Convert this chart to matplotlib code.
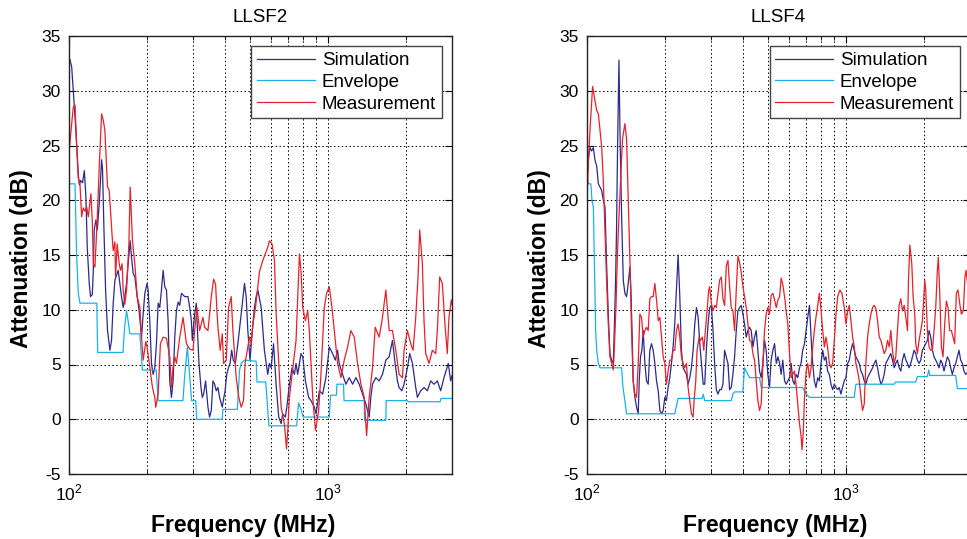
import matplotlib
matplotlib.use('Agg')
import matplotlib.pyplot as plt
from matplotlib.ticker import FixedLocator, NullFormatter

# (frequency MHz, attenuation dB)
llsf2_sim = [(100, 33.1), (100.9, 32.8), (102.4, 32.2), (103.9, 30), (105.5, 27.6), (107, 25.2), (108.6, 22.4),
             (109.6, 21.4), (110.9, 21.8), (112.8, 21.6), (114.6, 22.7), (116.2, 20.3), (117.6, 15.7), (119.7, 12.4),
             (121.1, 11.2), (123, 11.4), (124.1, 13.6), (125.1, 17.3), (127, 18.2), (128.6, 17.3), (130.8, 19.7),
             (133.6, 23.7), (134.7, 22.8), (136.4, 17.3), (138.4, 11.8), (140.8, 8.1), (143.8, 6.3), (145.9, 7.2),
             (148.1, 10.6), (150.3, 12.7), (154.8, 13.6), (159.4, 11.2), (161.8, 10.2), (164.2, 11.2), (166.7, 12.4),
             (169.1, 14.2), (172.2, 16.3), (174.2, 14.8), (176.8, 13.3), (179.4, 13.0), (183.2, 11.2), (186.4, 9.9),
             (190.4, 7.5), (193.2, 9.6), (196.1, 11.5), (200, 12.4), (201.9, 11.8), (204.9, 9), (208, 5.1),
             (211.1, 4.1), (214.2, 4.7), (217.4, 6.9), (220.7, 10.6), (223.9, 10.2), (227.3, 11.8), (230.7, 13.6),
             (234.1, 12.1), (237.6, 11.8), (241.1, 9), (244.7, 3.5), (248.4, 2.0), (252, 3.5), (255.8, 7.5),
             (259.6, 9.9), (263.5, 10.7), (267.4, 10.4), (271.4, 11.5), (279.5, 11.2), (287.7, 11.2), (292.1, 10.2),
             (296.4, 9.0), (299, 7.2), (302.6, 8.7), (305.3, 9.6), (309.7, 10.6), (312.5, 8.4), (317.2, 5.1),
             (322.8, 2.9), (326.7, 2.0), (330.5, 2.3), (336.4, 3.5), (343.5, 1.1), (348.5, 0.2), (353.8, 0.8),
             (359.1, 3.5), (364.4, 3.2), (369.8, 2.6), (375.3, 2.9), (380.9, 2.0), (390, 1.1), (395.7, 2.0),
             (400, 2.6), (405.8, 4.1), (412, 4.7), (418, 5.1), (424, 6.3), (430, 5.4), (438, 5.1), (448, 6.9),
             (461.4, 9.6), (475.2, 12.4), (482.3, 11.2), (489.4, 8.1), (499, 5.4), (509, 8.0), (519, 10.2),
             (527, 11.2), (535, 11.8), (551, 10.2), (567, 6.3), (584, 4.1), (593, 5.1), (602, 4.7), (615, 6.9),
             (629, 3.2), (644, 0.2), (658, -0.4), (667, 0.5), (683, 0.2), (692, 1.1), (708, 3.2), (725, 4.7),
             (740, 4.1), (751, 5.1), (762, 4.1), (785, 6), (797, 5.7), (816, 3.5), (840, 2.0), (858, 1.7),
             (884, 1.1), (897, 0.5), (924, 2.6), (951, 2.3), (979, 3.8), (1009, 6.6), (1039, 6.0), (1064, 5.4),
             (1086, 6.3), (1102, 5.1), (1135, 4.1), (1169, 3.2), (1204, 3.8), (1241, 3.2), (1278, 3.8),
             (1316, 3.2), (1356, 2.3), (1396, 1.4), (1438, 0.2), (1459, 2.0), (1481, 3.2), (1525, 3.8),
             (1571, 3.5), (1618, 4.1), (1667, 5.4), (1717, 5.7), (1768, 7.2), (1810, 5.1), (1848, 3.5),
             (1875, 2.9), (1920, 2.6), (1960, 3.2), (2019, 4.7), (2061, 6.0), (2111, 5.1), (2174, 2.9),
             (2206, 2.0), (2272, 2.6), (2340, 2.9), (2410, 2.6), (2483, 3.5), (2557, 3.2), (2634, 3.5),
             (2713, 2.6), (2794, 3.8), (2903, 5.1), (2964, 3.5), (3000, 4.0)]

llsf2_env = [(100, 21.5), (105.5, 21.5), (107, 15), (108.6, 11.5), (110.2, 10.6), (128, 10.6), (129, 6.1),
             (161.5, 6.1), (164, 8.5), (166.7, 9.9), (169, 9.0), (171.7, 7.8), (187.6, 7.8), (191.8, 4.5),
             (217, 4.5), (220.7, 1.7), (275, 1.7), (279.5, 4.0), (286, 6.6), (292, 4.0), (297, 1.7), (308, 1.7),
             (311, 0.0), (390, 0.0), (392, 0.9), (446, 0.9), (454.6, 4.5), (461.4, 5.1), (475, 5.4), (527, 5.3),
             (531, 3.4), (574, 3.4), (590, -0.6), (755, -0.6), (768, 1.5), (785, 0.9), (800, 0.2), (1009, 0.2),
             (1020, 2.2), (1075, 2.2), (1080, 3.2), (1145, 3.2), (1150, 1.7), (1376, 1.7), (1380, -0.1),
             (1667, -0.1), (1672, 1.7), (2020, 1.7), (2030, 1.6), (2700, 1.6), (2720, 1.9), (3000, 1.9)]

llsf2_meas = [(100, 24.3), (102.4, 27), (103.9, 28.5), (105.5, 28.7), (107, 25), (108.6, 22.0), (110.2, 21.5),
              (111.9, 18.5), (113.5, 19.3), (115.2, 19.0), (116.9, 19.4), (118.7, 18.5), (121.5, 20.6), (123, 18),
              (124.1, 14.2), (125.9, 13.9), (128.6, 18.5), (130.8, 23), (133.6, 27.9), (135.6, 27.3), (137.5, 26.4),
              (140.8, 21.2), (142.9, 20.9), (146.8, 16.6), (148.1, 15.4), (150.3, 16.2), (151.2, 13), (153.4, 16),
              (156.2, 14.2), (158, 13.6), (160.3, 14.2), (161.8, 11.8), (164.2, 10.5), (166.7, 11.8), (170.2, 16),
              (172.2, 21.2), (174.2, 18.5), (175.7, 16.3), (179.4, 14.2), (183.2, 11.2), (187.6, 10.2),
              (190.4, 7.5), (193.2, 5.4), (197.9, 7.1), (200, 6.6), (204.9, 4.8), (209.8, 2.9), (214.2, 2.0),
              (216.1, 1.1), (220.7, 2.3), (225.2, 6.9), (230.7, 7.5), (237.6, 7.4), (244.7, 5.7), (248.4, 2.9),
              (252, 4.8), (255.8, 5.7), (259.6, 5.1), (267.4, 7.5), (275.4, 9.3), (279.5, 8.1), (283.7, 6.9),
              (292.1, 6.4), (300.8, 6.3), (305.3, 8.1), (311.6, 10.2), (319, 8.1), (328.6, 9.3), (333.4, 8.4),
              (343.5, 8.1), (353.8, 11.2), (361.2, 12.8), (367.6, 12.3), (372, 9.9), (375.3, 8.4), (383, 6.3),
              (390, 7.8), (394.6, 5.1), (404, 5.4), (410, 8.7), (412.5, 10.2), (422.3, 11.2), (428.6, 8.1),
              (441.4, 3.8), (451.9, 2.0), (461.4, 1.1), (471, 1.7), (477.5, 5.1), (496.7, 7.5), (504, 6.9),
              (512, 8.7), (524, 10.2), (543, 13.5), (559, 14.5), (584, 15.7), (593, 16.3), (607, 16), (620, 14.5),
              (629, 9.8), (644, 5.1), (658, 1.1), (677, -0.4), (690, -2.7), (698, -1.0), (708, 2), (725, 4.1),
              (751, 7.2), (774, 15.1), (785, 13.5), (797, 10.2), (816, 9), (833, 9.9), (845, 8.1), (871, 2),
              (892, -1.0), (900, -0.5), (918, 0.8), (937, 4.1), (965, 10.2), (985, 11.5), (1009, 12.1),
              (1033, 10.2), (1055, 8.1), (1086, 5.1), (1119, 3.8), (1152, 5.4), (1187, 6.6), (1222, 8.1),
              (1259, 7.5), (1297, 5.1), (1336, 3.2), (1376, 2.0), (1405, -1.5), (1438, 2), (1481, 4.7),
              (1517, 8.4), (1571, 7.5), (1618, 9.3), (1667, 11.8), (1717, 8.1), (1768, 8.1), (1821, 6.3),
              (1875, 4.1), (1932, 3.8), (1960, 6.3), (2019, 8.1), (2080, 6.9), (2123, 6.3), (2174, 9.3),
              (2219, 13), (2252, 17.3), (2306, 14.2), (2340, 9), (2375, 6), (2447, 5.1), (2520, 6.3), (2596, 6),
              (2634, 8.1), (2689, 13), (2753, 12.4), (2818, 8.7), (2877, 6), (2920, 9.3), (2982, 10.9), (3000, 10.5)]

llsf4_sim = [(100, 21.8), (101.2, 23.8), (102.7, 24.8), (104.2, 24.5), (105.8, 24.8), (107.3, 23.7), (109, 23.1),
             (110.6, 21.5), (112.2, 21.2), (113.9, 20.9), (115.6, 20), (117.3, 19.4), (119, 14.2), (120.8, 9.6),
             (122.6, 6.0), (124.4, 5.4), (126.3, 5.1), (127.4, 8.1), (128.9, 12.7), (130, 17.3), (131.2, 24.9),
             (132.8, 32.8), (134, 26.4), (136, 18.5), (138, 12.7), (140, 11.5), (142.1, 11.2), (144.2, 12.4),
             (146.4, 13.9), (147.7, 11.8), (149.4, 7.5), (150.7, 3.5), (153, 2.0), (155.3, 1.1), (157.6, 0.5),
             (159, 3.5), (160.8, 5.7), (162.8, 6.3), (164.7, 8.1), (167.2, 5.1), (169.6, 3.5), (172.2, 3.2),
             (174.7, 6.3), (177.3, 6.9), (180, 6.3), (182.7, 5.1), (185.4, 3.5), (188.2, 2.6), (191, 0.8),
             (193.8, 0.5), (196.7, 0.8), (199.6, 2.0), (202.5, 1.7), (205.5, 2.9), (208.6, 3.8), (211.7, 5.1),
             (214.8, 6.6), (218, 8.7), (221.3, 11.8), (224.6, 15), (228, 11.2), (231.3, 6.3), (234.8, 4.7),
             (238.3, 4.4), (241.8, 4.1), (245.4, 3.2), (249.1, 3.8), (252.8, 4.7), (256.6, 6.3), (260.4, 8.7),
             (264.3, 10.2), (268.3, 9.3), (272.3, 6.9), (276.4, 5.1), (280.6, 3.2), (284.5, 3.2), (288.5, 6.3),
             (293, 8.7), (297.3, 10.2), (301.7, 10.4), (306.2, 8.1), (310.6, 5.1), (315.3, 2.7), (320, 2.3),
             (324.7, 2.7), (329.5, 2.7), (334.4, 3.2), (339.4, 6.3), (344.5, 5.7), (349.6, 5.1), (354.8, 2.7),
             (360, 2.9), (365.4, 4.1), (370.8, 5.7), (376.4, 8.1), (382, 9.9), (387.7, 10.2), (393.5, 10.4),
             (399.3, 9.6), (405.2, 8.7), (411.3, 7.5), (417.4, 8.1), (423.6, 8.4), (429.9, 8.1), (436.3, 6.6),
             (442.8, 7.5), (449.4, 8.1), (456, 6.3), (462.8, 4.4), (469.7, 3.8), (476.7, 5.1), (483.8, 7.2),
             (491, 6.3), (498.2, 4.1), (505.7, 2.9), (513, 5.4), (521, 6.3), (529, 6.9), (537, 5.1), (545, 5.7),
             (553, 5.1), (561, 4.1), (569, 5.4), (578, 3.5), (586, 3.2), (595, 3.5), (604, 3.8), (613, 5.1),
             (622, 3.5), (631, 3.2), (640, 4.1), (650, 3.8), (660, 4.7), (669, 5.1), (679, 6.3), (690, 6.9),
             (700, 8.1), (710, 9.3), (721, 10.4), (727, 8.7), (735, 6.6), (742, 5.1), (753, 3.5), (764, 2.9),
             (776, 3.8), (787, 3.5), (799, 5.1), (811, 6.3), (823, 5.4), (835, 5.7), (847, 4.4), (860, 4.1),
             (873, 3.2), (886, 2.7), (899, 3.2), (913, 2.9), (926, 2.7), (940, 2.9), (953, 2.3), (967, 2.9),
             (982, 3.5), (997, 3.8), (1012, 5.1), (1027, 5.4), (1042, 6.3), (1058, 6.9), (1073, 6.3),
             (1089, 5.7), (1106, 5.4), (1122, 5.1), (1139, 4.4), (1155, 4.1), (1173, 3.5), (1190, 3.2),
             (1208, 3.8), (1226, 4.1), (1244, 4.4), (1263, 4.7), (1282, 5.1), (1301, 5.4), (1320, 4.7),
             (1340, 3.8), (1360, 3.2), (1380, 3.5), (1400, 4.1), (1421, 5.1), (1442, 5.4), (1464, 5.7),
             (1485, 6.0), (1507, 5.4), (1530, 4.7), (1552, 5.1), (1575, 5.4), (1599, 4.7), (1623, 4.4),
             (1647, 5.4), (1672, 6.0), (1697, 5.4), (1722, 5.1), (1747, 4.7), (1773, 5.1), (1799, 5.7),
             (1826, 6.3), (1853, 6.0), (1880, 5.4), (1909, 5.1), (1937, 5.4), (1966, 6.3), (1995, 6.6),
             (2025, 6.9), (2055, 7.2), (2086, 8.1), (2117, 7.5), (2148, 6.3), (2180, 5.7), (2213, 5.4),
             (2245, 5.1), (2279, 4.7), (2313, 5.4), (2347, 5.1), (2382, 4.4), (2418, 5.1), (2454, 5.7),
             (2490, 5.4), (2527, 4.7), (2565, 4.1), (2603, 4.7), (2642, 5.1), (2681, 5.7), (2721, 6.3),
             (2761, 5.4), (2803, 5.1), (2844, 4.4), (2886, 4.1), (3000, 4.5)]

llsf4_env = [(100, 22.1), (101.5, 21.5), (103.5, 21.5), (104.5, 20), (105.8, 19.4), (106.8, 14.2), (108, 8.1),
             (109, 6.3), (110.6, 5.1), (112.2, 4.7), (136, 4.7), (137.5, 3.0), (139.4, 2.0), (142.1, 0.5),
             (218, 0.5), (221.3, 1.2), (224.6, 1.9), (278, 1.9), (280.6, 2.3), (284.5, 1.7), (360, 1.7),
             (365.4, 2.3), (370.8, 2.5), (399, 2.5), (405.2, 4.7), (411.3, 4.4), (423.6, 3.8), (462.8, 3.8),
             (469.7, 2.9), (679, 2.9), (690, 2.6), (700, 2.3), (721, 2.0), (1073, 2.0), (1089, 3.2), (1530, 3.2),
             (1552, 3.4), (1853, 3.4), (1880, 3.9), (2055, 3.9), (2080, 4.5), (2100, 4.0), (2642, 4.0),
             (2681, 2.8), (3000, 2.8)]

llsf4_meas = [(100, 19.7), (101.2, 23.4), (102.7, 26.4), (105.1, 30.4), (107.3, 29.1), (109, 28.2), (110.6, 27.9),
              (112.2, 26.4), (113.9, 24.9), (115.6, 21.8), (117.3, 17.3), (119, 12.7), (120.8, 8.7), (122.6, 5.7),
              (124.4, 5.1), (126.3, 4.5), (127.4, 6.3), (129.3, 10.2), (131.2, 15.5), (133.2, 19.1), (135.2, 22.6),
              (137.1, 25.6), (140, 27), (142.1, 25.6), (144.2, 20), (146.4, 14.5), (148.5, 8.1), (150.7, 3.5),
              (153, 2.3), (155.3, 2.0), (157.6, 5.1), (159.9, 9.6), (162.3, 9.3), (164.7, 7.5), (167.2, 8.1),
              (169.6, 8.4), (172.2, 8.1), (174.7, 11), (177.3, 11.2), (180, 11.2), (182.7, 12.4), (185.4, 10.9),
              (188.2, 9.0), (191, 9.3), (193.8, 7.5), (196.7, 5.7), (199.6, 5.1), (202.5, 3.2), (205.5, 4.4),
              (208.6, 5.4), (211.7, 5.4), (214.8, 6.3), (218, 6.3), (221.3, 8.1), (224.6, 8.7), (228, 7.5),
              (231.3, 5.7), (234.8, 5.1), (238.3, 4.7), (241.8, 5.1), (245.4, 2.9), (249.1, 1.7), (252.8, 0.5),
              (256.6, 0.2), (258.8, 1.7), (262.7, 3.5), (265.8, 6.3), (270.6, 7.5), (273.8, 7.2), (278.7, 7.5),
              (282, 6.3), (286.2, 8.1), (290.4, 9.9), (294.7, 11.8), (297.3, 12.1), (301.7, 10.6), (306.2, 9.9),
              (310.6, 10.4), (315.3, 10.2), (320, 11.5), (324.7, 12.7), (329.5, 13), (334.4, 11), (339.4, 10.4),
              (344.5, 14), (349.6, 14.5), (354.8, 12.1), (360, 10.2), (365.4, 9.9), (370.8, 8.1), (376.4, 11.8),
              (382, 14.9), (387.7, 14.3), (393.5, 13.4), (399.3, 12.1), (405.2, 11.2), (411.3, 10.2), (417.4, 8.7),
              (423.6, 7.2), (429.9, 7.1), (436.3, 6.0), (442.8, 5.4), (449.4, 3.5), (456, 1.7), (462.8, 0.8),
              (469.7, 1.4), (476.7, 5.0), (483.8, 8.1), (491, 9.6), (498.2, 10.2), (505.7, 9.6), (513, 11.3),
              (521, 11.5), (529, 10.9), (537, 10.2), (545, 10.9), (553, 11.2), (561, 12.9), (569, 12.3), (578, 11.2),
              (586, 9.9), (595, 8.7), (604, 6.0), (613, 3.8), (622, 4.1), (631, 4.4), (640, 3.2), (650, 1.4),
              (660, -0.4), (669, -1.5), (675, -2.8), (683, -1.0), (690, 2.0), (700, 4.4), (710, 5.1), (721, 3.8),
              (731, 4.7), (742, 6.6), (753, 8.1), (764, 9.3), (776, 10.4), (787, 11.5), (799, 10.0), (811, 8.1),
              (823, 6.6), (835, 7.5), (847, 6.6), (860, 5.1), (873, 4.7), (886, 5.1), (899, 7.2), (913, 9.6),
              (926, 11.2), (945, 11.8), (962, 11.5), (982, 10.2), (997, 8.7), (1012, 9.9), (1027, 10.4),
              (1042, 9.0), (1058, 7.5), (1073, 6.6), (1089, 5.1), (1106, 4.4), (1122, 3.5), (1139, 2.0),
              (1155, 0.8), (1173, 1.4), (1190, 5.1), (1208, 7.5), (1226, 8.7), (1244, 9.6), (1263, 10.2),
              (1282, 10.4), (1301, 10.1), (1320, 9.0), (1340, 7.5), (1360, 7.2), (1380, 6.6), (1400, 6.0),
              (1421, 6.3), (1442, 7.2), (1464, 6.6), (1485, 8.1), (1507, 6.3), (1530, 5.1), (1552, 5.7),
              (1575, 8.1), (1599, 10.4), (1623, 11.0), (1647, 9.9), (1672, 10.4), (1697, 9.3), (1722, 8.1),
              (1737, 12.7), (1758, 15.9), (1789, 14.2), (1810, 11.2), (1837, 9.6), (1853, 6.9), (1880, 6.0),
              (1909, 7.2), (1937, 8.1), (1966, 9.0), (1983, 10.4), (2007, 12.7), (2025, 11.8), (2055, 8.1),
              (2086, 6.6), (2117, 6.3), (2148, 6.3), (2180, 8.1), (2213, 10.2), (2245, 13.6), (2265, 14.8),
              (2293, 11.5), (2327, 6.6), (2361, 5.7), (2396, 8.7), (2432, 10.8), (2468, 10.2), (2505, 8.1),
              (2542, 8.1), (2580, 7.5), (2618, 6.9), (2657, 11.5), (2697, 11.8), (2737, 10.6), (2778, 9.6),
              (2827, 9.9), (2869, 13), (2895, 13.6), (2950, 12), (3000, 11)]

panels = [("LLSF2", llsf2_sim, llsf2_env, llsf2_meas), ("LLSF4", llsf4_sim, llsf4_env, llsf4_meas)]
series_names = ["Simulation", "Envelope", "Measurement"]
series_colors = ["#2a2a8e", "#1ab2e6", "#e8202a"]

plt.rcParams['font.family'] = ['Liberation Sans', 'DejaVu Sans']
plt.rcParams['mathtext.fontset'] = 'custom'
plt.rcParams['mathtext.rm'] = 'Liberation Sans'
plt.rcParams['axes.unicode_minus'] = False

W, H = 967, 539
fig = plt.figure(figsize=(W / 100, H / 100), dpi=100)

# left edge (px) of each panel and x-centre of its xlabel in axes units
lefts = [69, 587]
xlabel_x = [0.454, 0.491]
for (title, sim, env, meas), x0, lx in zip(panels, lefts, xlabel_x):
    ax = fig.add_axes([x0 / W, (H - 474) / H, 383 / W, 438 / H])
    for data, name, col in zip([sim, env, meas], series_names, series_colors):
        f, db = zip(*data)
        ax.plot(f, db, color=col, lw=0.9, label=name)

    ax.set_xscale('log')
    ax.set_xlim(100, 3000)
    ax.set_ylim(-5, 35)
    ax.set_yticks(range(-5, 36, 5))
    ax.xaxis.set_major_locator(FixedLocator([100, 1000]))
    ax.xaxis.set_minor_locator(FixedLocator([200, 300, 400, 500, 600, 700, 800, 900, 2000]))
    ax.xaxis.set_minor_formatter(NullFormatter())
    ax.set_xticklabels(['$10^2$', '$10^3$'])

    ax.grid(which='both', axis='x', linestyle=(0, (1.5, 2.5)), color='k', lw=0.7)
    ax.grid(which='major', axis='y', linestyle=(0, (1.5, 2.5)), color='k', lw=0.7)
    ax.tick_params(which='both', direction='in', top=True, right=True, labelsize=12.5, pad=6)
    ax.tick_params(which='major', length=5)
    ax.tick_params(which='minor', length=3)
    for s in ax.spines.values():
        s.set_linewidth(1.0)
        s.set_color('#222222')

    ax.set_title(title, fontsize=13.5, pad=10)
    ax.set_xlabel('Frequency (MHz)', fontsize=16.5, fontweight='bold')
    ax.set_ylabel('Attenuation (dB)', fontsize=16.5, fontweight='bold')
    ax.xaxis.set_label_coords(lx, -0.092)
    ax.yaxis.set_label_coords(-0.095, 0.491)

    leg = ax.legend(loc='upper right', fontsize=13.5, fancybox=False, edgecolor='#444444', framealpha=1,
                    handlelength=3.1, handletextpad=0.35, labelspacing=0.25, borderpad=0.3,
                    borderaxespad=0.55)
    leg.get_frame().set_linewidth(1.0)

fig.savefig('out.png', dpi=100)
